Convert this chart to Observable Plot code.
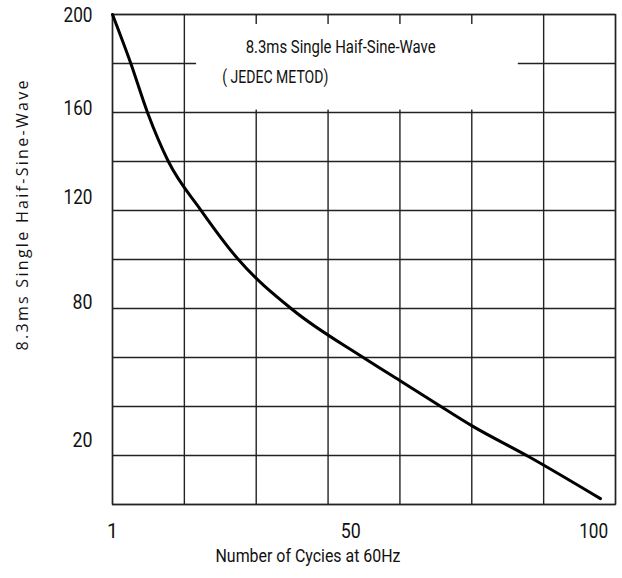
<!DOCTYPE html>
<html>
<head>
<meta charset="utf-8">
<script src="https://cdn.jsdelivr.net/npm/d3@7"></script>
<script src="https://cdn.jsdelivr.net/npm/@observablehq/plot@0.6"></script>
<style>
  html, body { margin: 0; padding: 0; background: #fff; }
  #chart svg { display: block; }
</style>
</head>
<body>
<div id="chart"></div>
<script>
// Data
const cycles  = [1, 4.7, 8.2, 12.5, 19.1, 26.9, 38.0, 52.6, 60.1, 68.9, 74.9, 86.6, 101.4];
const current = [200, 180.4, 160, 140, 120.4, 100, 79.6, 60, 50.6, 39.6, 32.2, 19.6, 2.4];
const xTicks = [1, 50, 100];
const yTicks = [200, 160, 120, 80, 20];
const titleLines = ["8.3ms Single Haif-Sine-Wave", "( JEDEC METOD)"];
const xLabel = "Number of Cycies at 60Hz";
const yLabel = "8.3ms Single Haif-Sine-Wave";

const xDomain = [1, 104.5];
const yDomain = [0, 200];
const xGrid = d3.range(8).map(i => xDomain[0] + i * (xDomain[1] - xDomain[0]) / 7);
const yGrid = d3.range(0, 201, 20);

const data = cycles.map((c, i) => ({c, v: current[i]}));

const font = "Roboto, 'Open Sans', sans-serif";
const gridColor = "#222";

const yAxisFor = (v, dy) => Plot.axisY([v], {
  tickSize: 0, tickPadding: 20, fontSize: 19.5, dy, fill: "#111", fontFamily: font, label: null
});

const chart = Plot.plot({
  width: 622,
  height: 578,
  marginLeft: 112,
  marginRight: 7,
  marginTop: 14,
  marginBottom: 74,
  style: {fontFamily: font, background: "#fff"},
  x: {domain: xDomain},
  y: {domain: yDomain},
  marks: [
    Plot.ruleX(xGrid, {stroke: gridColor, strokeWidth: 1.4}),
    Plot.ruleY(yGrid, {stroke: gridColor, strokeWidth: 1.4}),
    Plot.rect([0], {x1: 18.3, x2: 84.5, y1: 161, y2: 195.9, fill: "#fff"}),
    Plot.frame({stroke: gridColor, strokeWidth: 1.4}),
    Plot.line(data, {x: "c", y: "v", curve: "monotone-x", stroke: "#000", strokeWidth: 3}),
    Plot.text([titleLines[0]], {x: 28.4, y: 186.5, fontSize: 18, fill: "#111", textAnchor: "start"}),
    Plot.text([titleLines[1]], {x: 23.6, y: 174.3, fontSize: 18, fill: "#111", textAnchor: "start"}),
    Plot.axisX(xTicks, {tickSize: 0, tickPadding: 20, fontSize: 19.5, fill: "#111", fontFamily: font, label: null}),
    yAxisFor(200, 1),
    yAxisFor(160, -4),
    yAxisFor(120, -13),
    yAxisFor(80, -6),
    yAxisFor(20, -15),
    Plot.text([xLabel], {frameAnchor: "bottom-left", dx: 103, dy: 57, fontSize: 17.5, fill: "#111", textAnchor: "start"}),
    Plot.text([yLabel], {frameAnchor: "left", dx: -90, dy: 91, rotate: -90, fontSize: 16, fill: "#111",
      textAnchor: "start", fontFamily: "'Open Sans', sans-serif"})
  ]
});

// squeeze / stretch text to the reference's measured widths (narrow Calibri-like look)
const targetWidth = {
  "200": 29, "160": 29, "120": 29, "100": 29, "80": 20, "20": 20, "50": 20,
  [titleLines[0]]: 190, [titleLines[1]]: 106, [xLabel]: 185
};
d3.select(chart).selectAll("text").each(function() {
  const t = this.textContent;
  const rotated = (this.getAttribute("transform") || "").includes("rotate");
  if (rotated && t === yLabel) {
    d3.select(this).attr("textLength", 270).attr("lengthAdjust", "spacing");
  } else if (targetWidth[t] != null) {
    d3.select(this).attr("textLength", targetWidth[t]).attr("lengthAdjust", "spacingAndGlyphs");
  }
});
document.getElementById("chart").appendChild(chart);
</script>
</body>
</html>
